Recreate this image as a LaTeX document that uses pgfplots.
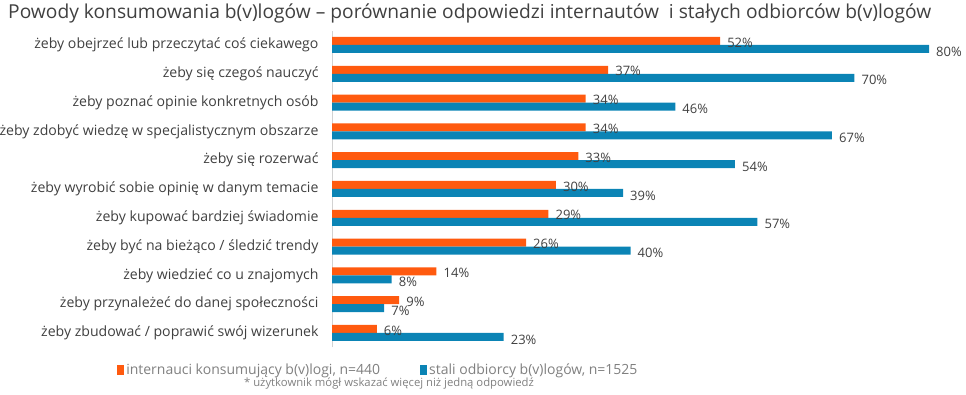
\documentclass[border=0pt]{standalone}
\usepackage{pgfplots}
\pgfplotsset{compat=1.18}
\usepackage{fontspec}
\setmainfont{Open Sans}
\definecolor{cOr}{HTML}{FF5A0F}
\definecolor{cBl}{HTML}{0B84B5}
\definecolor{txt}{HTML}{404040}
\definecolor{lg}{HTML}{808080}
\begin{document}
\begin{tikzpicture}[x=1pt,y=1pt]
\useasboundingbox (0,0) rectangle (966,395);
\node[anchor=west, font=\fontsize{19.2}{22}\selectfont, text=txt, inner sep=0] at (8,382) {Powody konsumowania b(v)logów – porównanie odpowiedzi internautów \ i stałych odbiorców b(v)logów};
\begin{axis}[
  at={(332pt,47.6pt)}, anchor=south west, scale only axis,
  width=597pt, height=316.8pt,
  xmin=0, xmax=80, ymin=-0.5, ymax=10.5,
  xbar, bar width=8pt,
  axis x line=none, axis y line*=left,
  y axis line style={draw=gray!35, line width=0.8pt},
  ytick={0,...,10},
  yticklabels={
    żeby zbudować / poprawić swój wizerunek,
    żeby przynależeć do danej społeczności,
    żeby wiedzieć co u znajomych,
    żeby być na bieżąco / śledzić trendy,
    żeby kupować bardziej świadomie,
    żeby wyrobić sobie opinię w danym temacie,
    żeby się rozerwać,
    żeby zdobyć wiedzę w specjalistycznym obszarze,
    żeby poznać opinie konkretnych osób,
    żeby się czegoś nauczyć,
    żeby obejrzeć lub przeczytać coś ciekawego},
  major tick length=0pt,
  yticklabel style={font=\fontsize{14.1}{16}\selectfont, text=txt, xshift=-10pt},
  clip=false,
  point meta=x,
  nodes near coords={\pgfmathprintnumber[assume math mode=true]{\pgfplotspointmeta}\%},
  nodes near coords style={font=\fontsize{13}{15}\selectfont, text=txt, anchor=west, inner sep=0pt, xshift=7pt},
  legend columns=2,
  legend style={at={(-0.365,-0.07)}, anchor=west, draw=none, fill=none,
    font=\fontsize{14}{16}\selectfont, text=lg,
    /tikz/every even column/.append style={column sep=38pt}},
  legend image code/.code={\fill[#1, draw=none] (0pt,-5pt) rectangle (7pt,5pt);},
]
\addplot[fill=cOr, draw=none, bar shift=4pt, every node near coord/.append style={yshift=-1.5pt}] coordinates {(6,0)(9,1)(14,2)(26,3)(29,4)(30,5)(33,6)(34,7)(34,8)(37,9)(52,10)};
\addplot[fill=cBl, draw=none, bar shift=-4pt, every node near coord/.append style={yshift=-2.5pt}] coordinates {(23,0)(7,1)(8,2)(40,3)(57,4)(39,5)(54,6)(67,7)(46,8)(70,9)(80,10)};
\legend{internauci konsumujący b(v)logi{,} n=440, stali odbiorcy b(v)logów{,} n=1525}
\end{axis}
\node[font=\fontsize{11.3}{13}\selectfont, text=lg, inner sep=0] at (389,11) {* użytkownik mógł wskazać więcej niż jedną odpowiedź};
\end{tikzpicture}
\end{document}
